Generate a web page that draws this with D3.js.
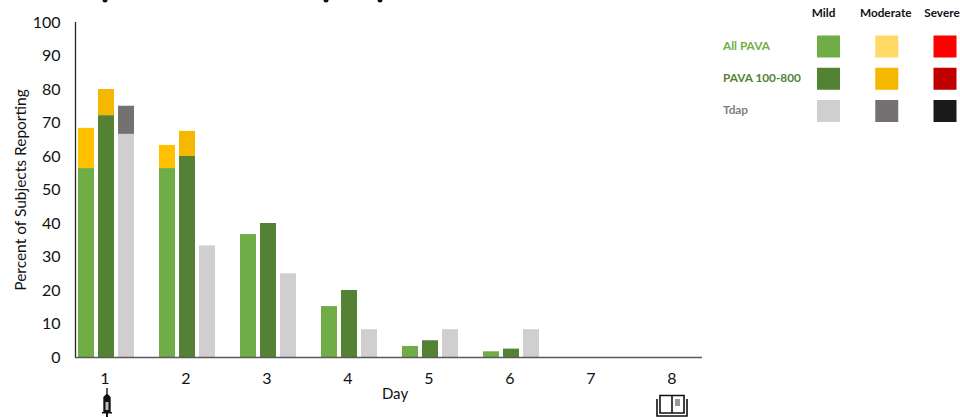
<!DOCTYPE html>
<html>
<head>
<meta charset="utf-8">
<script src="https://cdn.jsdelivr.net/npm/d3@7"></script>
<style>
  html, body { margin: 0; padding: 0; background: #fff; overflow: hidden; }
  svg { display: block; }
  text { font-family: Lato, "Open Sans", sans-serif; fill: #111; }
  .axis text { font-size: 16px; }
  .axis .domain { display: none; }
  .axis line { display: none; }
  .legend text { font-size: 11.8px; font-weight: 700; }
</style>
</head>
<body>
<svg width="960" height="417"></svg>
<script>
// **** data ****
var days = ["1","2","3","4","5","6","7","8"];
var groups = ["All PAVA","PAVA 100-800","Tdap"];
var severities = ["Mild","Moderate","Severe"];
var yTicks = [0,10,20,30,40,50,60,70,80,90,100];

var allPavaMild     = [56.4,56.4,36.7,15.2,3.3,1.7,0,0];
var allPavaModerate = [12.0,6.9,0,0,0,0,0,0];
var pavaMild        = [72.2,60,40,20,5,2.5,0,0];
var pavaModerate    = [7.8,7.5,0,0,0,0,0,0];
var tdapMild        = [66.6,33.3,25,8.3,8.3,8.3,0,0];
var tdapModerate    = [8.4,0,0,0,0,0,0,0];

var barColors = [["#70ad47","#ffc000"],["#548235","#f4b800"],["#d0cece","#767171"]];
var legendColors = [["#70ad47","#ffd966","#ff0000"],["#548235","#f4b800","#c00000"],["#d0cece","#767171","#1a1a1a"]];
var labelColors = ["#70ad47","#548235","#7f7f7f"];

var stacks = [[allPavaMild,allPavaModerate],[pavaMild,pavaModerate],[tdapMild,tdapModerate]];

var svg = d3.select('svg');

// **** scales ****
var xScale = d3.scaleBand().domain(days).range([65.5,713.5]);
var barScale = d3.scaleBand().domain(groups).range([-28,28]).paddingInner(0.2);
var yScale = d3.scaleLinear().domain([0,100]).range([357,22]);

// **** bars ****
stacks.forEach(function(stack,g){
    days.forEach(function(day,i){
        var base = 0;
        stack.forEach(function(series,s){
            var v = series[i];
            if(v > 0){
                svg.append('rect')
                    .attr('x', xScale(day) + xScale.bandwidth()/2 + barScale(groups[g]))
                    .attr('width', barScale.bandwidth())
                    .attr('y', yScale(base + v))
                    .attr('height', yScale(base) - yScale(base + v))
                    .style('fill', barColors[g][s]);
            }
            base += v;
        });
    });
});

// **** axes ****
svg.append('g').attr('class','y axis')
    .attr('transform','translate(60.5,0)')
    .call(d3.axisLeft(yScale).tickValues(yTicks).tickSize(0).tickPadding(0));

svg.append('g').attr('class','x axis')
    .attr('transform','translate(-1,373)')
    .call(d3.axisBottom(xScale).tickSize(0).tickPadding(0));

svg.append('line')
    .attr('x1',75.5).attr('x2',75.5).attr('y1',yScale(100)).attr('y2',yScale(0)+1)
    .style('stroke','#262626').style('stroke-width',1.3);
svg.append('line')
    .attr('x1',75).attr('x2',702).attr('y1',yScale(0)+0.5).attr('y2',yScale(0)+0.5)
    .style('stroke','#595959').style('stroke-width',1.4);

svg.append('text')
    .text('Day')
    .style('font-size','15px')
    .attr('text-anchor','middle')
    .attr('transform','translate(395,399)');

svg.append('text')
    .text('Percent of Subjects Reporting')
    .style('font-size','15.5px')
    .attr('text-anchor','middle')
    .attr('transform','translate(26,190) rotate(-90)');

// tips of the cropped title's descenders at the top edge
svg.selectAll('ellipse.speck').data([105,326,380]).enter().append('ellipse')
    .attr('class','speck')
    .attr('cx',function(d){return d;}).attr('cy',0)
    .attr('rx',2.5).attr('ry',2.5)
    .style('fill','#111');

// **** legend ****
var legendX = d3.scalePoint().domain(severities).range([828.5,945]);
var legendY = d3.scalePoint().domain(groups).range([46.5,111]);
var legend = svg.append('g').attr('class','legend');

severities.forEach(function(sev){
    legend.append('text')
        .text(sev)
        .attr('text-anchor','middle')
        .attr('x', sev == "Severe" ? legendX(sev) - 3 : sev == "Moderate" ? legendX(sev) - 1 : legendX(sev) - 5)
        .attr('y', 17)
        .style('fill','#111');
});

groups.forEach(function(grp,g){
    legend.append('text')
        .text(grp)
        .attr('x',723)
        .attr('y',legendY(grp)+3)
        .style('fill',labelColors[g]);

    severities.forEach(function(sev,s){
        legend.append('rect')
            .attr('x',legendX(sev)-11.5)
            .attr('y',legendY(grp)-11)
            .attr('width',23)
            .attr('height',22)
            .style('fill',legendColors[g][s]);
    });
});

// **** icons under day 1 and day 8 ****
var syringe = svg.append('g').attr('transform','translate('+(xScale("1")+xScale.bandwidth()/2+1)+',388)');
syringe.append('path').attr('d','M-0.7,0 h1.4 v6 l3,3 v15 h-7.4 v-15 l3,-3 z').style('fill','#111');
syringe.append('rect').attr('x',-1.5).attr('y',14).attr('width',3).attr('height',8).style('fill','#bbb');
syringe.append('path').attr('d','M-5,24 h10 v1.5 h-4 v3.5 h-2 v-3.5 h-4 z').style('fill','#111');

var book = svg.append('g').attr('transform','translate('+(xScale("8")+xScale.bandwidth()/2-1)+',394)');
book.append('path').attr('d','M-12,1.5 H12 V19 H-12 Z M0,1.5 V19').style('fill','none').style('stroke','#111').style('stroke-width',1.6);
book.append('path').attr('d','M-15,5 V22 H15 V5').style('fill','none').style('stroke','#111').style('stroke-width',1.6);
book.append('rect').attr('x',3).attr('y',5).attr('width',5).attr('height',7).style('fill','#999');
</script>
</body>
</html>
